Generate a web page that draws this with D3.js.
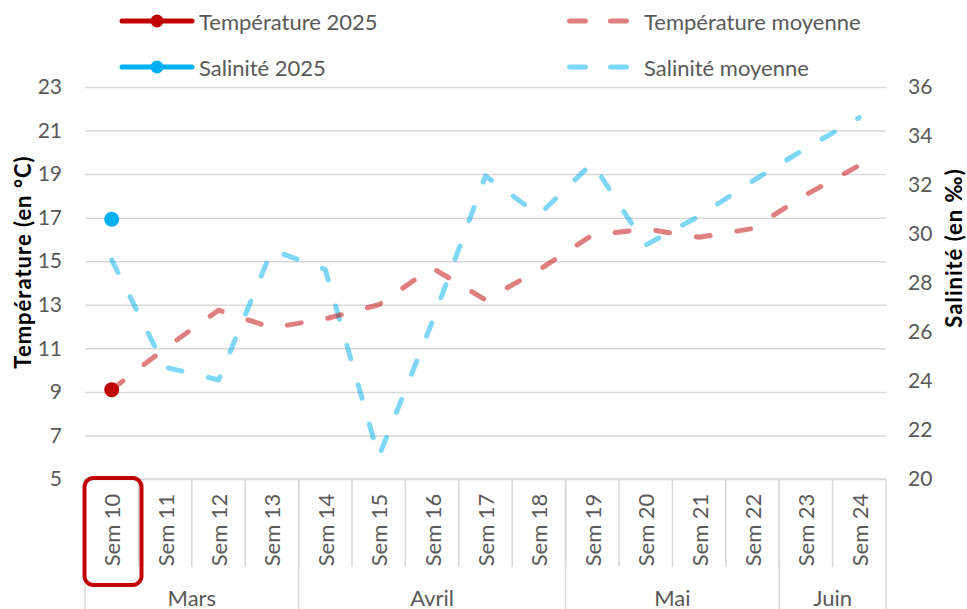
<!DOCTYPE html>
<html>
<head>
<meta charset="utf-8">
<script src="https://cdn.jsdelivr.net/npm/d3@7"></script>
<style>
  body { margin: 0; background: #fff; }
  svg { font-family: Lato, "Open Sans", sans-serif; }
  .tick text { fill: #595959; }
</style>
</head>
<body>
<svg id="chart" width="967" height="609"></svg>
<script>
// data
const weeks = ["Sem 10","Sem 11","Sem 12","Sem 13","Sem 14","Sem 15","Sem 16","Sem 17","Sem 18","Sem 19","Sem 20","Sem 21","Sem 22","Sem 23","Sem 24"];
const monthNames = ["Mars","Avril","Mai","Juin"];
const monthWeeks = [4, 5, 4, 2];
const temp2025 = [9.1, null, null, null, null, null, null, null, null, null, null, null, null, null, null];
const sal2025 = [30.6, null, null, null, null, null, null, null, null, null, null, null, null, null, null];
const tempMoyenne = [9.1, 11.0, 12.75, 11.95, 12.35, 13.0, 14.7, 13.22, 14.6, 16.2, 16.48, 16.1, 16.5, 18.05, 19.4];
const salMoyenne = [28.94, 24.57, 24.04, 29.35, 28.55, 20.9, 26.4, 32.37, 30.78, 32.9, 29.55, 30.73, 32.16, 33.5, 34.75];
const leftTicks = [5, 7, 9, 11, 13, 15, 17, 19, 21, 23];
const rightTicks = [20, 22, 24, 26, 28, 30, 32, 34, 36];

const svg = d3.select('#chart');
const plot = {left: 85, right: 886, top: 87, bottom: 479};
const textColor = '#595959', gridColor = '#d9d9d9';
const red = '#C00000', blue = '#00B0F0';

const x = d3.scaleBand().domain(weeks).range([plot.left, plot.right]);
const yL = d3.scaleLinear().domain([5, 23]).range([plot.bottom, plot.top]);
const yR = d3.scaleLinear().domain([20, 36]).range([plot.bottom, plot.top]);

// grid
svg.append('g')
  .attr('transform', `translate(${plot.left},0)`)
  .call(d3.axisLeft(yL).tickValues(leftTicks).tickSize(-(plot.right - plot.left)).tickFormat(''))
  .call(g => g.select('.domain').remove())
  .call(g => g.selectAll('line').attr('stroke', gridColor).attr('stroke-width', 1.5));

// left tick labels
svg.append('g')
  .attr('transform', `translate(62,0)`)
  .call(d3.axisLeft(yL).tickValues(leftTicks).tickSize(0).tickPadding(0))
  .call(g => g.select('.domain').remove())
  .call(g => g.selectAll('text').attr('font-size', 21).attr('font-family', 'Lato'));

// right tick labels
svg.append('g')
  .attr('transform', `translate(908,0)`)
  .call(d3.axisRight(yR).tickValues(rightTicks).tickSize(0).tickPadding(0))
  .call(g => g.select('.domain').remove())
  .call(g => g.selectAll('text').attr('font-size', 21).attr('font-family', 'Lato'));

// category axis: week separators, labels, month groups
const bw = x.bandwidth();
const sepG = svg.append('g');
weeks.forEach((w, i) => {
  if (i > 0) {
    sepG.append('line')
      .attr('x1', x(w)).attr('x2', x(w))
      .attr('y1', plot.bottom).attr('y2', 567)
      .attr('stroke', gridColor).attr('stroke-width', 1.5);
  }
  svg.append('text')
    .attr('transform', `translate(${x(w) + bw / 2},530) rotate(-90)`)
    .attr('text-anchor', 'middle')
    .attr('dominant-baseline', 'central')
    .attr('font-size', 22)
    .style('fill', textColor)
    .text(w);
});

let start = 0;
const monthEdges = [plot.left];
monthNames.forEach((m, i) => {
  const a = x(weeks[start]);
  const b = x(weeks[start + monthWeeks[i] - 1]) + bw;
  monthEdges.push(b);
  svg.append('text')
    .attr('x', (a + b) / 2).attr('y', 597)
    .attr('text-anchor', 'middle')
    .attr('dominant-baseline', 'central')
    .attr('font-size', 22)
    .style('fill', textColor)
    .text(m);
  start += monthWeeks[i];
});
monthEdges.forEach(e => {
  svg.append('line')
    .attr('x1', e).attr('x2', e)
    .attr('y1', plot.bottom).attr('y2', 609)
    .attr('stroke', gridColor).attr('stroke-width', 1.5);
});
svg.append('line')
  .attr('x1', plot.left).attr('x2', plot.right)
  .attr('y1', plot.bottom).attr('y2', plot.bottom)
  .attr('stroke', gridColor).attr('stroke-width', 1.5);

// highlight box around first week
svg.append('rect')
  .attr('x', x(weeks[0]) - 0.5).attr('y', 478)
  .attr('width', 57).attr('height', 107)
  .attr('rx', 9)
  .attr('fill', 'none')
  .attr('stroke', red)
  .attr('stroke-width', 4);

// lines
const cx = (d, i) => x(weeks[i]) + bw / 2;
const lineL = d3.line().defined(d => d != null).x(cx).y(d => yL(d));
const lineR = d3.line().defined(d => d != null).x(cx).y(d => yR(d));

svg.append('path')
  .datum(salMoyenne)
  .attr('d', lineR)
  .attr('fill', 'none')
  .attr('stroke', blue).attr('stroke-opacity', 0.5)
  .attr('stroke-width', 5)
  .attr('stroke-linecap', 'round').attr('stroke-linejoin', 'round')
  .attr('stroke-dasharray', '14 27');

svg.append('path')
  .datum(tempMoyenne)
  .attr('d', lineL)
  .attr('fill', 'none')
  .attr('stroke', red).attr('stroke-opacity', 0.5)
  .attr('stroke-width', 5)
  .attr('stroke-linecap', 'round').attr('stroke-linejoin', 'round')
  .attr('stroke-dasharray', '14 27');

svg.append('g').selectAll('circle')
  .data(sal2025.map((v, i) => [v, i]).filter(d => d[0] != null))
  .join('circle')
  .attr('cx', d => cx(d[0], d[1])).attr('cy', d => yR(d[0]))
  .attr('r', 7.5).attr('fill', blue);

svg.append('g').selectAll('circle')
  .data(temp2025.map((v, i) => [v, i]).filter(d => d[0] != null))
  .join('circle')
  .attr('cx', d => cx(d[0], d[1])).attr('cy', d => yL(d[0]))
  .attr('r', 7.5).attr('fill', red);

// axis titles
svg.append('text')
  .attr('transform', 'translate(22,262) rotate(-90)')
  .attr('text-anchor', 'middle')
  .attr('dominant-baseline', 'central')
  .attr('font-size', 22).attr('font-weight', 'bold')
  .attr('letter-spacing', 1)
  .style('fill', '#000')
  .text('Température (en °C)');

svg.append('text')
  .attr('transform', 'translate(953,248) rotate(-90)')
  .attr('text-anchor', 'middle')
  .attr('dominant-baseline', 'central')
  .attr('font-size', 22).attr('font-weight', 'bold')
  .attr('letter-spacing', 1)
  .style('fill', '#000')
  .text('Salinité (en ‰)');

// legend
const legend = [
  {label: 'Température 2025', color: red, dashed: false, lx: 122, ly: 21},
  {label: 'Salinité 2025', color: blue, dashed: false, lx: 122, ly: 67},
  {label: 'Température moyenne', color: red, dashed: true, lx: 567, ly: 21},
  {label: 'Salinité moyenne', color: blue, dashed: true, lx: 567, ly: 67}
];
legend.forEach(l => {
  const g = svg.append('g');
  if (l.dashed) {
    g.append('line')
      .attr('x1', l.lx + 2.5).attr('x2', l.lx + 61)
      .attr('y1', l.ly).attr('y2', l.ly)
      .attr('stroke', l.color).attr('stroke-opacity', 0.5)
      .attr('stroke-width', 5).attr('stroke-linecap', 'round')
      .attr('stroke-dasharray', '16 25');
  } else {
    g.append('line')
      .attr('x1', l.lx).attr('x2', l.lx + 70)
      .attr('y1', l.ly).attr('y2', l.ly)
      .attr('stroke', l.color).attr('stroke-width', 5).attr('stroke-linecap', 'round');
    g.append('circle')
      .attr('cx', l.lx + 35).attr('cy', l.ly).attr('r', 6.5).attr('fill', l.color);
  }
  g.append('text')
    .attr('x', l.lx + 77).attr('y', l.ly)
    .attr('dominant-baseline', 'central')
    .attr('font-size', 22)
    .style('fill', textColor)
    .text(l.label);
});
</script>
</body>
</html>
